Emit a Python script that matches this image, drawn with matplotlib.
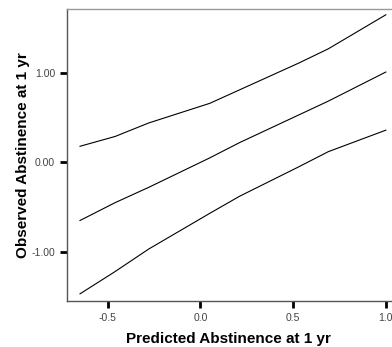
import matplotlib
matplotlib.use('Agg')
import matplotlib.pyplot as plt

plt.rcParams['font.family'] = ['Liberation Sans', 'DejaVu Sans']

# values
pred_x = [-0.65, -0.46, -0.28, 0.05, 0.21, 0.53, 0.69, 1.0]
upper_y = [0.18, 0.29, 0.44, 0.66, 0.81, 1.11, 1.27, 1.65]
fit_y = [-0.65, -0.45, -0.28, 0.05, 0.22, 0.53, 0.685, 1.01]
lower_y = [-1.47, -1.22, -0.97, -0.57, -0.38, -0.05, 0.12, 0.36]

xticks = [-0.5, 0.0, 0.5, 1.0]
xticklabels = ['-0.5', '0.0', '0.5', '1.0']
yticks = [-1.0, 0.0, 1.0]
yticklabels = ['-1.00', '0.00', '1.00']

fig = plt.figure(figsize=(3.92, 3.47), dpi=100)
ax = fig.add_axes([0.171, 0.1326, 0.826, 0.8415])

for ys in (upper_y, fit_y, lower_y):
    ax.plot(pred_x, ys, color='black', lw=0.8)

ax.set_xlim(-0.72, 1.027)
ax.set_ylim(-1.55, 1.715)
ax.set_xticks(xticks)
ax.set_xticklabels(xticklabels)
ax.set_yticks(yticks)
ax.set_yticklabels(yticklabels)

ax.spines['right'].set_visible(False)
ax.spines['top'].set_color('#999999')
ax.spines['left'].set_color('#555555')
ax.spines['bottom'].set_color('#555555')
for s in ax.spines.values():
    s.set_linewidth(1.0)

ax.tick_params(direction='out', length=5, width=2, color='black',
               labelsize=7.5, labelcolor='#444444', pad=3.5)

ax.set_xlabel('Predicted Abstinence at 1 yr', fontsize=11, fontweight='bold', va='center')
ax.set_ylabel('Observed Abstinence at 1 yr', fontsize=11, fontweight='bold', va='center')
ax.xaxis.set_label_coords(0.5, -0.13)
ax.yaxis.set_label_coords(-0.137, 0.5)

fig.savefig('out.png', dpi=100)
